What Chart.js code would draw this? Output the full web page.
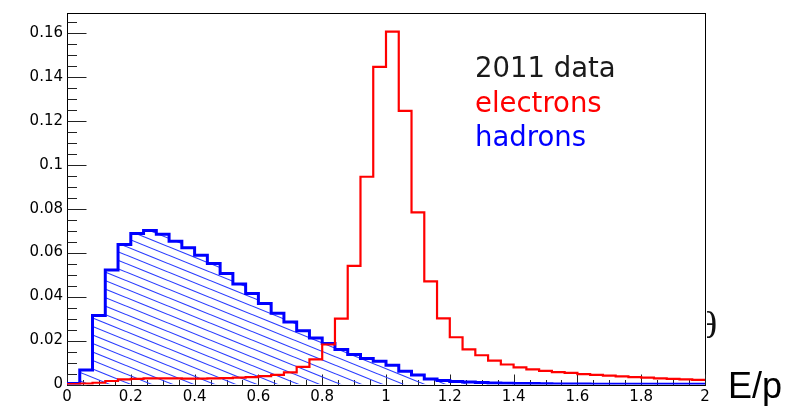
<!DOCTYPE html>
<html>
<head>
<meta charset="utf-8">
<script src="https://cdn.jsdelivr.net/npm/chart.js@4.4.1/dist/chart.umd.min.js"></script>
<style>
  html, body { margin: 0; padding: 0; background: #ffffff; }
  #wrap { width: 796px; height: 414px; }
</style>
</head>
<body>
<div id="wrap"><canvas id="c" width="796" height="414"></canvas></div>
<script>
// E/p histograms, 50 bins of width 0.04 from 0 to 2
const binEdges = Array.from({ length: 51 }, (_, i) => +(i * 0.04).toFixed(2));

const electrons = [
  0.0002, 0.0004, 0.0008, 0.0016, 0.0023, 0.0026, 0.0028, 0.0028, 0.0028, 0.0027,
  0.0027, 0.0028, 0.0029, 0.0031, 0.0034, 0.0038, 0.0044, 0.0055, 0.0080, 0.0114,
  0.0182, 0.0300, 0.0540, 0.0945, 0.1445, 0.1605, 0.1245, 0.0783, 0.0469, 0.0301,
  0.0215, 0.0160, 0.0133, 0.0109, 0.0091, 0.0078, 0.0069, 0.0062, 0.0056, 0.0053,
  0.0047, 0.0044, 0.0040, 0.0037, 0.0034, 0.0031, 0.0028, 0.0026, 0.0023, 0.0021
];

const hadrons = [
  0.0005, 0.0066, 0.0314, 0.0521, 0.0637, 0.0687, 0.0701, 0.0683, 0.0652, 0.0622,
  0.0588, 0.0550, 0.0505, 0.0457, 0.0414, 0.0369, 0.0324, 0.0284, 0.0244, 0.0211,
  0.0186, 0.0159, 0.0136, 0.0118, 0.0106, 0.0088, 0.0060, 0.0043, 0.0025, 0.0018,
  0.0014, 0.0011, 0.0009, 0.0007, 0.0006, 0.0005, 0.0004, 0.0003, 0.0002, 0.0002,
  0.0002, 0.0001, 0.0001, 0.0001, 0.0001, 0.0001, 0.0001, 0.0001, 0.0001, 0.0001
];

const xTickValues = [0, 0.2, 0.4, 0.6, 0.8, 1, 1.2, 1.4, 1.6, 1.8, 2];
const xTickLabels = ['0', '0.2', '0.4', '0.6', '0.8', '1', '1.2', '1.4', '1.6', '1.8', '2'];
const yTickValues = [0, 0.02, 0.04, 0.06, 0.08, 0.1, 0.12, 0.14, 0.16];
const yTickLabels = ['0', '0.02', '0.04', '0.06', '0.08', '0.1', '0.12', '0.14', '0.16'];

const legendLines = [
  { text: '2011 data', color: '#1a1a1a' },
  { text: 'electrons', color: '#ff0000' },
  { text: 'hadrons', color: '#0000ff' }
];
const axisTitle = 'E/p';

// one point per bin edge; the last edge repeats the last bin so the step closes at x = 2
function histPoints(values) {
  return binEdges.map((x, i) => ({ x, y: values[Math.min(i, values.length - 1)] }));
}

// diagonal hatching for the hadron histogram
function hatchPattern() {
  const w = 42, h = 17;
  const c = document.createElement('canvas');
  c.width = w; c.height = h;
  const g = c.getContext('2d');
  g.strokeStyle = '#2a3cff';
  g.lineWidth = 1.1;
  for (let k = -3; k <= 3; k++) {
    g.beginPath();
    g.moveTo(0, k * 8.5);
    g.lineTo(w, k * 8.5 + h);
    g.stroke();
  }
  return g.createPattern(c, 'repeat');
}

const ctx = document.getElementById('c').getContext('2d');

const framePlugin = {
  id: 'frame',
  beforeDraw(chart) {
    const g = chart.ctx;
    g.save();
    g.fillStyle = '#ffffff';
    g.fillRect(0, 0, chart.width, chart.height);
    // glyph peeking out to the right of the frame
    g.beginPath();
    g.rect(707, 0, 89, 414);
    g.clip();
    g.fillStyle = '#111111';
    g.font = '38px "Liberation Serif"';
    g.textBaseline = 'alphabetic';
    g.fillText('\u03B8', 699, 338);
    g.restore();
  },
  beforeDatasetsDraw(chart) {
    const g = chart.ctx;
    const a = chart.chartArea;
    const xs = chart.scales.x, ys = chart.scales.y;
    const L = Math.round(a.left) + 0.5, R = Math.round(a.right) + 0.5;
    const T = Math.round(a.top) + 0.5, B = Math.round(a.bottom) + 0.5;
    g.save();
    g.strokeStyle = '#000000';
    g.lineWidth = 1;
    g.strokeRect(L, T, R - L, B - T);
    g.strokeStyle = '#222222';
    // y axis ticks, pointing inward
    for (let i = 0; i <= 33; i++) {
      const v = i * 0.005;
      if (v > ys.max) break;
      const y = Math.round(ys.getPixelForValue(v)) + 0.5;
      const len = (i % 4 === 0) ? 19 : 9.5;
      g.beginPath(); g.moveTo(L, y); g.lineTo(L + len, y); g.stroke();
    }
    // x axis ticks, pointing inward
    for (let i = 0; i <= 40; i++) {
      const v = i * 0.05;
      const x = Math.round(xs.getPixelForValue(v)) + 0.5;
      const len = (i % 4 === 0) ? 11 : 5.5;
      g.beginPath(); g.moveTo(x, B); g.lineTo(x, B - len); g.stroke();
    }
    g.restore();
  },
  afterDraw(chart) {
    const g = chart.ctx;
    g.save();
    g.textBaseline = 'alphabetic';
    g.textAlign = 'left';
    g.font = '27.5px "DejaVu Sans"';
    const baselines = [77, 111.5, 145.5];
    legendLines.forEach((l, i) => {
      g.fillStyle = l.color;
      g.fillText(l.text, 475, baselines[i]);
    });
    g.fillStyle = '#000000';
    g.font = '36px "Liberation Sans"';
    g.fillText(axisTitle, 728, 398);
    g.restore();
  }
};

new Chart(ctx, {
  type: 'line',
  data: {
    datasets: [
      {
        label: 'electrons',
        data: histPoints(electrons),
        stepped: 'before',
        borderColor: '#ff0000',
        borderWidth: 2.2,
        pointRadius: 0,
        fill: false,
        order: 0
      },
      {
        label: 'hadrons',
        data: histPoints(hadrons),
        stepped: 'before',
        borderColor: '#0000ff',
        borderWidth: 3,
        backgroundColor: hatchPattern(),
        pointRadius: 0,
        fill: 'origin',
        order: 1
      }
    ]
  },
  options: {
    responsive: false,
    animation: false,
    events: [],
    layout: { padding: { left: 0, right: 91, top: 10, bottom: 0 } },
    plugins: { legend: { display: false }, tooltip: { enabled: false } },
    scales: {
      x: {
        type: 'linear',
        min: 0,
        max: 2,
        afterFit(s) { s.height = 29.5; },
        afterBuildTicks(s) { s.ticks = xTickValues.map(v => ({ value: v })); },
        grid: { display: false, drawTicks: false },
        border: { display: false },
        ticks: {
          autoSkip: false,
          maxRotation: 0,
          padding: 4,
          color: '#000000',
          font: { family: 'DejaVu Sans', size: 15 },
          callback(v, i) { return xTickLabels[i]; }
        }
      },
      y: {
        type: 'linear',
        min: 0,
        max: 0.169,
        afterFit(s) { s.width = 67; },
        afterBuildTicks(s) { s.ticks = yTickValues.map(v => ({ value: v })); },
        grid: { display: false, drawTicks: false },
        border: { display: false },
        ticks: {
          autoSkip: false,
          padding: 4,
          color: '#000000',
          font: { family: 'DejaVu Sans', size: 15 },
          callback(v, i) { return yTickLabels[i]; }
        }
      }
    }
  },
  plugins: [framePlugin]
});
</script>
</body>
</html>
